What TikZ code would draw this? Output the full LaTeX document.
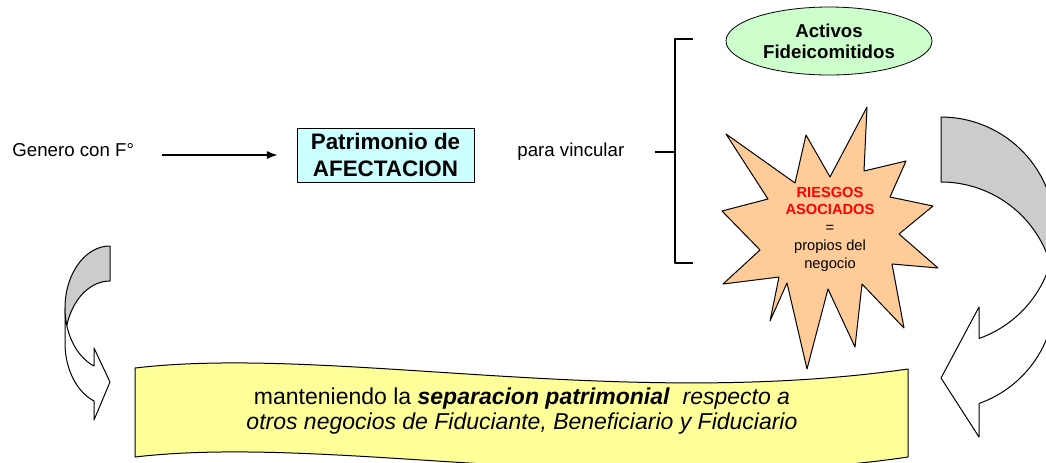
\documentclass[tikz,border=0pt]{standalone}
\usepackage{fontspec}
\setmainfont{Liberation Sans}
\usepackage{tikz}
\usetikzlibrary{arrows.meta,shapes.geometric}

\definecolor{celeste}{HTML}{CCFFFF}
\definecolor{verdeclaro}{HTML}{CCFFCC}
\definecolor{naranja}{HTML}{FFCC99}
\definecolor{amarillo}{HTML}{FFFF99}
\definecolor{gris}{HTML}{CCCCCC}

\begin{document}
\begin{tikzpicture}[x=0.75pt,y=-0.75pt,>={Latex[length=8pt,width=6pt]},
                    line join=round,semithick]
  \tikzstyle{texto}=[inner sep=0pt,font=\fontsize{14}{16}\selectfont]
  \tikzstyle{caja}=[rectangle,draw=black,fill=celeste,inner sep=0pt,
                    minimum width=132.75pt,minimum height=40.5pt,align=center,
                    font=\fontsize{16.8}{20}\selectfont\bfseries]
  \tikzstyle{nube}=[ellipse,draw=black,fill=verdeclaro,inner sep=0pt,
                    minimum width=154.5pt,minimum height=51pt,align=center,
                    font=\fontsize{14}{15.75}\selectfont\bfseries]
  \tikzstyle{forma}=[draw=black,line width=0.75pt]

  \useasboundingbox (0,0) rectangle (1046,462);
  \clip (0,0) rectangle (1046,462);

  % flecha curva izquierda
  \filldraw[forma,fill=white]
    plot[domain=180:110.8,samples=30] ({110+45*cos(\x)},{308+62*sin(\x)})
    -- (94,348) -- (110,382) -- (94,420)
    -- plot[domain=110.8:180,samples=30] ({110+45*cos(\x)},{343+62*sin(\x)})
    -- cycle;
  \filldraw[forma,fill=gris]
    plot[domain=270:163.6,samples=40] ({110+45*cos(\x)},{308+62*sin(\x)})
    -- plot[domain=196.4:270,samples=40] ({110+45*cos(\x)},{343+62*sin(\x)})
    -- cycle;

  % flecha curva derecha
  \filldraw[forma,fill=white]
    plot[domain=0:70.5,samples=30] ({941+114*cos(\x)},{231+114*sin(\x)})
    -- (979,307) -- (941,378) -- (979,437)
    -- plot[domain=70.5:0,samples=30] ({941+114*cos(\x)},{296+114*sin(\x)})
    -- cycle;
  \filldraw[forma,fill=gris]
    plot[domain=-90:16.6,samples=40] ({941+114*cos(\x)},{231+114*sin(\x)})
    -- plot[domain=-16.6:-90,samples=40] ({941+114*cos(\x)},{296+114*sin(\x)})
    -- cycle;

  % estrella
  \filldraw[forma,fill=naranja]
    (726,134) -- (795,183) -- (806,135) -- (830,177) -- (867,107) -- (864,171)
    -- (906,161) -- (890,197) -- (933,206) -- (899,234) -- (938,268) -- (892,264)
    -- (904,328) -- (862,284) -- (855,347) -- (828,289) -- (807,369) -- (787,283)
    -- (770,321) -- (779,277) -- (723,284) -- (760,250) -- (722,211) -- (768,199)
    -- cycle;

  % cinta
  \filldraw[forma,fill=amarillo]
    (135,368) .. controls (330,345) and (620,410) .. (908,369)
    -- (908,457) .. controls (620,499) and (330,434) .. (135,457) -- cycle;

  \node[texto,anchor=base west] (gen) at (12,156) {Genero con F°};
  \node[caja] (pat) at (385.5,155) {Patrimonio de\\AFECTACION};
  \node[texto,anchor=base west] (para) at (517,156) {para vincular};
  \node[nube] (activos) at (829,41) {Activos\\Fideicomitidos};
  \node[inner sep=0pt,align=center,font=\fontsize{11}{13.3}\selectfont] (riesgos)
    at (830,229) {\textcolor{red}{\bfseries RIESGOS}\\
                  \textcolor{red}{\bfseries ASOCIADOS}\\=\\propios del\\negocio};
  \node[texto,align=center,font=\fontsize{17.25}{18.75}\selectfont] (sep) at (522,411)
    {manteniendo la \textbf{\textit{separacion patrimonial}}\ \ \textit{respecto a}\\
     \textit{otros negocios de Fiduciante, Beneficiario y Fiduciario}};

  \draw[->,line width=1pt,shorten <=21pt,shorten >=14.25pt]
    (gen.east |- pat.west) -- (pat.west);

  % llave
  \draw[line width=1pt] (693,39) -- (675,39) -- (675,263) -- (693,263);
  \draw[line width=1pt] (655,152) -- (675,152);
\end{tikzpicture}
\end{document}
